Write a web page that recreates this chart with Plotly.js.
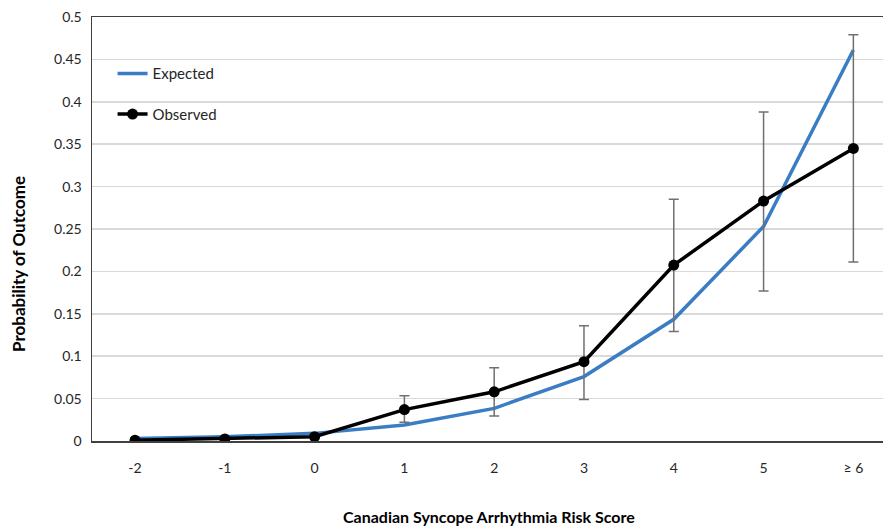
<!DOCTYPE html>
<html>
<head>
<meta charset="utf-8">
<script src="https://cdn.plot.ly/plotly-3.0.1.min.js"></script>
<style>html,body{margin:0;padding:0;background:#fff;}#chart{width:883px;height:527px;}</style>
</head>
<body>
<div id="chart"></div>
<script>
const categories = ["-2", "-1", "0", "1", "2", "3", "4", "5", "\u2265 6"];
const expected = [0.003, 0.005, 0.009, 0.019, 0.0385, 0.076, 0.1435, 0.253, 0.461];
const observed = [0.001, 0.0025, 0.005, 0.037, 0.058, 0.0935, 0.2075, 0.283, 0.345];
const ciUpper = [0.001, 0.0025, 0.005, 0.0535, 0.0865, 0.136, 0.285, 0.388, 0.479];
const ciLower = [0.001, 0.0025, 0.005, 0.022, 0.0295, 0.049, 0.129, 0.177, 0.211];
const yTicks = [0, 0.05, 0.1, 0.15, 0.2, 0.25, 0.3, 0.35, 0.4, 0.45, 0.5];
const yTickText = ["0", "0.05", "0.1", "0.15", "0.2", "0.25", "0.3", "0.35", "0.4", "0.45", "0.5"];

const errPlus = observed.map((v, i) => ciUpper[i] - v);
const errMinus = observed.map((v, i) => v - ciLower[i]);

const font = "Lato, 'Open Sans', sans-serif";

const traces = [
  {
    x: categories, y: expected, name: "Expected", type: "scatter", mode: "lines",
    line: {color: "#3a7dc4", width: 3.5}, legendgroup: "a"
  },
  {
    x: categories, y: observed, name: "Observed", type: "scatter", mode: "lines+markers",
    line: {color: "#000000", width: 3.5},
    marker: {color: "#000000", size: 11},
    error_y: {type: "data", symmetric: false, array: errPlus, arrayminus: errMinus,
              color: "#707070", thickness: 1.5, width: 5},
    legendgroup: "b"
  }
];

const layout = {
  width: 883, height: 527,
  margin: {l: 92, r: 0, t: 17, b: 86},
  paper_bgcolor: "#ffffff", plot_bgcolor: "#ffffff",
  font: {family: font, size: 14, color: "#262626"},
  showlegend: true,
  legend: {x: 0.026, y: 0.905, xanchor: "left", yanchor: "top",
           bgcolor: "rgba(255,255,255,0)", font: {size: 15, color: "#262626"},
           traceorder: "grouped", tracegroupgap: 18},
  xaxis: {
    type: "category", range: [-0.479, 8.33],
    showline: true, linecolor: "#404040", linewidth: 1.5, mirror: true,
    showgrid: false, ticks: "", ticklabelstandoff: 14, zeroline: false,
    tickfont: {size: 14, color: "#262626"}, fixedrange: true
  },
  yaxis: {
    range: [0, 0.5], tickvals: yTicks, ticktext: yTickText,
    showline: true, linecolor: "#404040", linewidth: 1.5,
    showgrid: true, gridcolor: "#d9d9d9", gridwidth: 1.5, zeroline: false,
    ticks: "", ticklabelstandoff: 6, tickfont: {size: 14, color: "#262626"}
  },
  annotations: [
    {text: "<b>Probability of Outcome</b>", xref: "paper", yref: "paper",
     x: -74 / 791, y: (441 - 264) / 424, xanchor: "center", yanchor: "middle",
     textangle: -90, showarrow: false, font: {size: 17, color: "#000000"}},
    {text: "<b>Canadian Syncope Arrhythmia Risk Score</b>", xref: "paper", yref: "paper",
     x: (489 - 92) / 791, y: -(516 - 441) / 424, xanchor: "center", yanchor: "middle",
     showarrow: false, font: {size: 16, color: "#000000"}}
  ]
};

Plotly.newPlot("chart", traces, layout, {displayModeBar: false, staticPlot: true});
</script>
</body>
</html>
